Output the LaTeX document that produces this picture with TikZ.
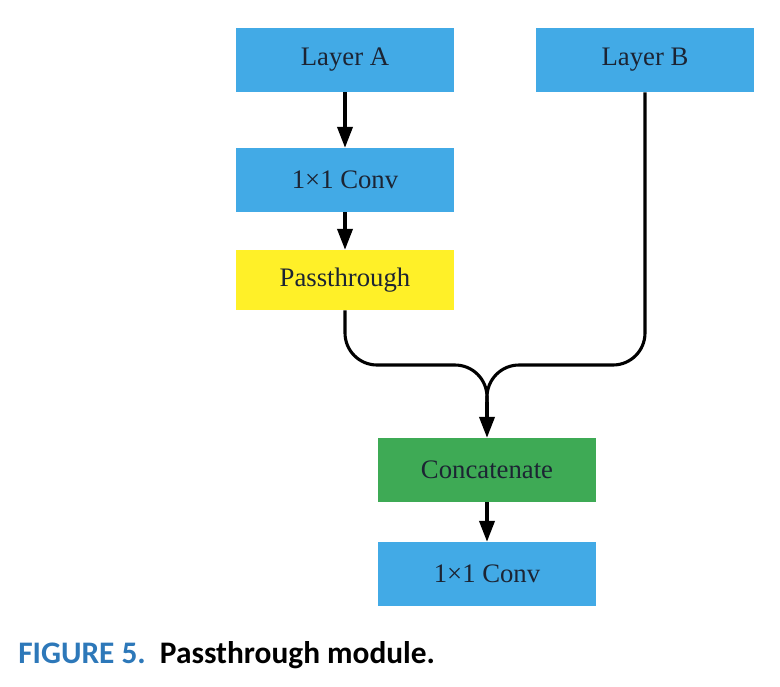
\documentclass[tikz,border=0pt]{standalone}
\usepackage{fontspec}
\setmainfont{Liberation Serif}
\newfontfamily\capfont{Carlito}
\usetikzlibrary{arrows.meta}
\definecolor{convblue}{RGB}{66,170,230}
\definecolor{passyellow}{RGB}{255,240,40}
\definecolor{catgreen}{RGB}{62,170,85}
\definecolor{figblue}{RGB}{45,120,185}
\definecolor{labelink}{RGB}{28,36,51}
\begin{document}
\begin{tikzpicture}[
    x=0.025cm, y=-0.025cm,
    block/.style={rectangle, inner sep=0pt, minimum width=5.45cm, minimum height=1.6cm,
        text=labelink, font=\fontsize{19}{22}\selectfont},
    flow/.style={-{Triangle[length=0.52cm,width=0.38cm]}, line width=2.2pt},
    merging/.style={line width=2.2pt, rounded corners=0.8cm}
    ]
    \useasboundingbox (0,0) rectangle (780,686);

    \node[block, fill=convblue] (layerA) at (345,60) {Layer A};
    \node[block, fill=convblue] (layerB) at (645,60) {Layer B};
    \node[block, fill=convblue] (convA) at (345,180) {1\texttimes1 Conv};
    \node[block, fill=passyellow, minimum height=1.5cm] (pass) at (345,280) {Passthrough};
    \node[block, fill=catgreen] (concat) at (487,470) {Concatenate};
    \node[block, fill=convblue] (convB) at (487,574) {1\texttimes1 Conv};
    \coordinate (merge) at (487,402);

    \draw[flow] (layerA) -- (convA);
    \draw[flow] (convA) -- (pass);
    \draw[merging] (pass.south) |- (487,365) -- (merge);
    \draw[merging] (layerB.south) |- (487,365) -- (merge);
    \draw[flow] (merge) -- (concat);
    \draw[flow] (concat) -- (convB);

    \node[anchor=west, inner sep=0pt, font=\capfont\bfseries\fontsize{22.3}{26}\selectfont] (caption) at (18,655)
        {\textcolor{figblue}{FIGURE 5.}\ \ Passthrough module.};
\end{tikzpicture}
\end{document}
